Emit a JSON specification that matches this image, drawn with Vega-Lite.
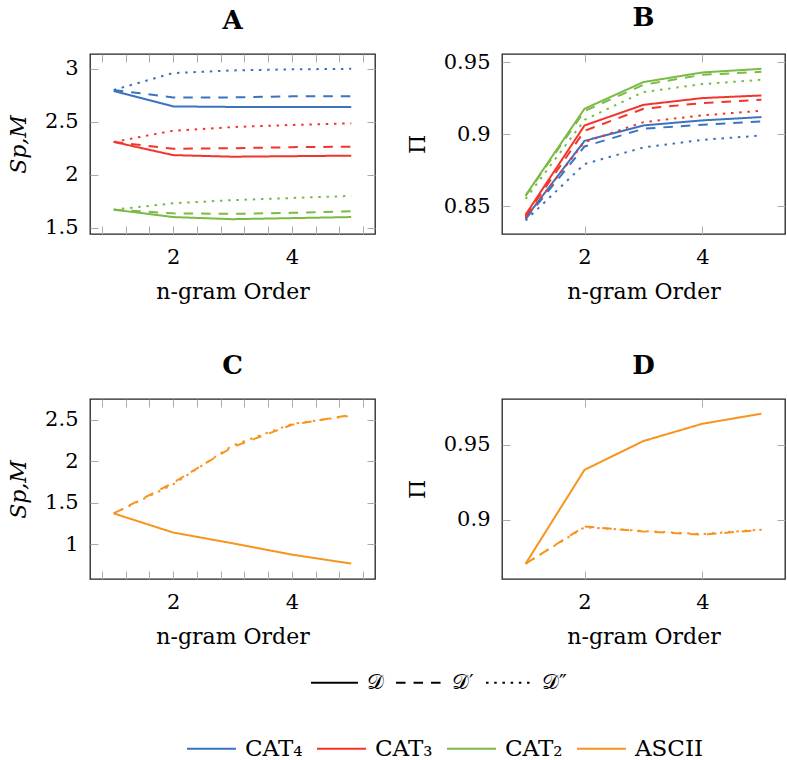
{
  "$schema": "https://vega.github.io/schema/vega-lite/v6.json",
  "padding": {"left": 6, "top": 4, "right": 0, "bottom": 0},
  "background": "white",
  "config": {
    "font": "DejaVu Serif",
    "view": {"stroke": "#222222", "strokeWidth": 1.3},
    "axis": {
      "grid": false, "domain": false,
      "tickColor": "#aaaaaa", "tickSize": -8, "tickWidth": 1,
      "labelFontSize": 21, "titleFontSize": 22, "labelColor": "black", "titleColor": "black",
      "titleFontWeight": "normal", "labelPadding": 20, "titlePadding": 14,
      "labelFont": "DejaVu Serif", "titleFont": "DejaVu Serif"
    },
    "title": {"fontSize": 26, "fontWeight": "bold", "offset": 20, "frame": "group", "color": "black", "font": "DejaVu Serif"},
    "legend": {"labelFont": "DejaVu Serif", "labelFontSize": 21, "labelColor": "black"}
  },
  "datasets": {
    "rows": [
      {"p":"A","c":"CAT₄","d":"𝒟","x":1,"y":2.79},{"p":"A","c":"CAT₄","d":"𝒟","x":2,"y":2.645},{"p":"A","c":"CAT₄","d":"𝒟","x":3,"y":2.64},{"p":"A","c":"CAT₄","d":"𝒟","x":4,"y":2.64},{"p":"A","c":"CAT₄","d":"𝒟","x":5,"y":2.64},
      {"p":"A","c":"CAT₄","d":"𝒟′","x":1,"y":2.8},{"p":"A","c":"CAT₄","d":"𝒟′","x":2,"y":2.73},{"p":"A","c":"CAT₄","d":"𝒟′","x":3,"y":2.73},{"p":"A","c":"CAT₄","d":"𝒟′","x":4,"y":2.74},{"p":"A","c":"CAT₄","d":"𝒟′","x":5,"y":2.74},
      {"p":"A","c":"CAT₄","d":"𝒟″","x":1,"y":2.8},{"p":"A","c":"CAT₄","d":"𝒟″","x":2,"y":2.96},{"p":"A","c":"CAT₄","d":"𝒟″","x":3,"y":2.985},{"p":"A","c":"CAT₄","d":"𝒟″","x":4,"y":2.995},{"p":"A","c":"CAT₄","d":"𝒟″","x":5,"y":3.0},
      {"p":"A","c":"CAT₃","d":"𝒟","x":1,"y":2.31},{"p":"A","c":"CAT₃","d":"𝒟","x":2,"y":2.185},{"p":"A","c":"CAT₃","d":"𝒟","x":3,"y":2.17},{"p":"A","c":"CAT₃","d":"𝒟","x":4,"y":2.175},{"p":"A","c":"CAT₃","d":"𝒟","x":5,"y":2.18},
      {"p":"A","c":"CAT₃","d":"𝒟′","x":1,"y":2.31},{"p":"A","c":"CAT₃","d":"𝒟′","x":2,"y":2.245},{"p":"A","c":"CAT₃","d":"𝒟′","x":3,"y":2.25},{"p":"A","c":"CAT₃","d":"𝒟′","x":4,"y":2.26},{"p":"A","c":"CAT₃","d":"𝒟′","x":5,"y":2.265},
      {"p":"A","c":"CAT₃","d":"𝒟″","x":1,"y":2.31},{"p":"A","c":"CAT₃","d":"𝒟″","x":2,"y":2.415},{"p":"A","c":"CAT₃","d":"𝒟″","x":3,"y":2.45},{"p":"A","c":"CAT₃","d":"𝒟″","x":4,"y":2.47},{"p":"A","c":"CAT₃","d":"𝒟″","x":5,"y":2.485},
      {"p":"A","c":"CAT₂","d":"𝒟","x":1,"y":1.67},{"p":"A","c":"CAT₂","d":"𝒟","x":2,"y":1.6},{"p":"A","c":"CAT₂","d":"𝒟","x":3,"y":1.58},{"p":"A","c":"CAT₂","d":"𝒟","x":4,"y":1.59},{"p":"A","c":"CAT₂","d":"𝒟","x":5,"y":1.6},
      {"p":"A","c":"CAT₂","d":"𝒟′","x":1,"y":1.67},{"p":"A","c":"CAT₂","d":"𝒟′","x":2,"y":1.635},{"p":"A","c":"CAT₂","d":"𝒟′","x":3,"y":1.63},{"p":"A","c":"CAT₂","d":"𝒟′","x":4,"y":1.64},{"p":"A","c":"CAT₂","d":"𝒟′","x":5,"y":1.655},
      {"p":"A","c":"CAT₂","d":"𝒟″","x":1,"y":1.67},{"p":"A","c":"CAT₂","d":"𝒟″","x":2,"y":1.73},{"p":"A","c":"CAT₂","d":"𝒟″","x":3,"y":1.76},{"p":"A","c":"CAT₂","d":"𝒟″","x":4,"y":1.78},{"p":"A","c":"CAT₂","d":"𝒟″","x":5,"y":1.8},

      {"p":"B","c":"CAT₄","d":"𝒟","x":1,"y":0.8417},{"p":"B","c":"CAT₄","d":"𝒟","x":2,"y":0.8953},{"p":"B","c":"CAT₄","d":"𝒟","x":3,"y":0.906},{"p":"B","c":"CAT₄","d":"𝒟","x":4,"y":0.9095},{"p":"B","c":"CAT₄","d":"𝒟","x":5,"y":0.9118},
      {"p":"B","c":"CAT₄","d":"𝒟′","x":1,"y":0.841},{"p":"B","c":"CAT₄","d":"𝒟′","x":2,"y":0.8914},{"p":"B","c":"CAT₄","d":"𝒟′","x":3,"y":0.9037},{"p":"B","c":"CAT₄","d":"𝒟′","x":4,"y":0.9065},{"p":"B","c":"CAT₄","d":"𝒟′","x":5,"y":0.9088},
      {"p":"B","c":"CAT₄","d":"𝒟″","x":1,"y":0.84},{"p":"B","c":"CAT₄","d":"𝒟″","x":2,"y":0.8792},{"p":"B","c":"CAT₄","d":"𝒟″","x":3,"y":0.8907},{"p":"B","c":"CAT₄","d":"𝒟″","x":4,"y":0.896},{"p":"B","c":"CAT₄","d":"𝒟″","x":5,"y":0.899},
      {"p":"B","c":"CAT₃","d":"𝒟","x":1,"y":0.844},{"p":"B","c":"CAT₃","d":"𝒟","x":2,"y":0.906},{"p":"B","c":"CAT₃","d":"𝒟","x":3,"y":0.9203},{"p":"B","c":"CAT₃","d":"𝒟","x":4,"y":0.925},{"p":"B","c":"CAT₃","d":"𝒟","x":5,"y":0.9268},
      {"p":"B","c":"CAT₃","d":"𝒟′","x":1,"y":0.843},{"p":"B","c":"CAT₃","d":"𝒟′","x":2,"y":0.9023},{"p":"B","c":"CAT₃","d":"𝒟′","x":3,"y":0.9176},{"p":"B","c":"CAT₃","d":"𝒟′","x":4,"y":0.9215},{"p":"B","c":"CAT₃","d":"𝒟′","x":5,"y":0.9238},
      {"p":"B","c":"CAT₃","d":"𝒟″","x":1,"y":0.842},{"p":"B","c":"CAT₃","d":"𝒟″","x":2,"y":0.8944},{"p":"B","c":"CAT₃","d":"𝒟″","x":3,"y":0.9083},{"p":"B","c":"CAT₃","d":"𝒟″","x":4,"y":0.913},{"p":"B","c":"CAT₃","d":"𝒟″","x":5,"y":0.9162},
      {"p":"B","c":"CAT₂","d":"𝒟","x":1,"y":0.8574},{"p":"B","c":"CAT₂","d":"𝒟","x":2,"y":0.9176},{"p":"B","c":"CAT₂","d":"𝒟","x":3,"y":0.9361},{"p":"B","c":"CAT₂","d":"𝒟","x":4,"y":0.9428},{"p":"B","c":"CAT₂","d":"𝒟","x":5,"y":0.9453},
      {"p":"B","c":"CAT₂","d":"𝒟′","x":1,"y":0.857},{"p":"B","c":"CAT₂","d":"𝒟′","x":2,"y":0.916},{"p":"B","c":"CAT₂","d":"𝒟′","x":3,"y":0.9342},{"p":"B","c":"CAT₂","d":"𝒟′","x":4,"y":0.9412},{"p":"B","c":"CAT₂","d":"𝒟′","x":5,"y":0.9432},
      {"p":"B","c":"CAT₂","d":"𝒟″","x":1,"y":0.855},{"p":"B","c":"CAT₂","d":"𝒟″","x":2,"y":0.9099},{"p":"B","c":"CAT₂","d":"𝒟″","x":3,"y":0.9292},{"p":"B","c":"CAT₂","d":"𝒟″","x":4,"y":0.9347},{"p":"B","c":"CAT₂","d":"𝒟″","x":5,"y":0.9377},

      {"p":"C","c":"ASCII","d":"𝒟","x":1,"y":1.37},{"p":"C","c":"ASCII","d":"𝒟","x":2,"y":1.14},{"p":"C","c":"ASCII","d":"𝒟","x":3,"y":1.01},{"p":"C","c":"ASCII","d":"𝒟","x":4,"y":0.873},{"p":"C","c":"ASCII","d":"𝒟","x":5,"y":0.765},
      {"p":"C","c":"ASCII","d":"𝒟′","x":1,"y":1.37},{"p":"C","c":"ASCII","d":"𝒟′","x":2,"y":1.74},{"p":"C","c":"ASCII","d":"𝒟′","x":3,"y":2.17},{"p":"C","c":"ASCII","d":"𝒟′","x":4,"y":2.44},{"p":"C","c":"ASCII","d":"𝒟′","x":5,"y":2.56},
      {"p":"C","c":"ASCII","d":"𝒟″","x":1,"y":1.37},{"p":"C","c":"ASCII","d":"𝒟″","x":2,"y":1.72},{"p":"C","c":"ASCII","d":"𝒟″","x":3,"y":2.19},{"p":"C","c":"ASCII","d":"𝒟″","x":4,"y":2.45},{"p":"C","c":"ASCII","d":"𝒟″","x":5,"y":2.55},

      {"p":"D","c":"ASCII","d":"𝒟","x":1,"y":0.8707},{"p":"D","c":"ASCII","d":"𝒟","x":2,"y":0.9333},{"p":"D","c":"ASCII","d":"𝒟","x":3,"y":0.9525},{"p":"D","c":"ASCII","d":"𝒟","x":4,"y":0.964},{"p":"D","c":"ASCII","d":"𝒟","x":5,"y":0.9707},
      {"p":"D","c":"ASCII","d":"𝒟′","x":1,"y":0.8707},{"p":"D","c":"ASCII","d":"𝒟′","x":2,"y":0.8955},{"p":"D","c":"ASCII","d":"𝒟′","x":3,"y":0.8922},{"p":"D","c":"ASCII","d":"𝒟′","x":4,"y":0.89},{"p":"D","c":"ASCII","d":"𝒟′","x":5,"y":0.8933},
      {"p":"D","c":"ASCII","d":"𝒟″","x":1,"y":0.8707},{"p":"D","c":"ASCII","d":"𝒟″","x":2,"y":0.895},{"p":"D","c":"ASCII","d":"𝒟″","x":3,"y":0.8925},{"p":"D","c":"ASCII","d":"𝒟″","x":4,"y":0.8905},{"p":"D","c":"ASCII","d":"𝒟″","x":5,"y":0.8935}
    ]
  },
  "data": {"name": "rows"},
  "vconcat": [
    {
      "hconcat": [
        {
          "title": "A", "width": 285, "height": 180,
          "transform": [{"filter": "datum.p == 'A'"}],
          "layer": [
            {
              "mark": {"type": "line", "strokeWidth": 2},
              "encoding": {
                "x": {"field": "x", "type": "quantitative", "scale": {"domain": [0.6, 5.4], "nice": false, "zero": false},
                      "axis": {"values": [0.8,1.2,1.6,2,2.4,2.8,3.2,3.6,4,4.4,4.8,5.2], "labelExpr": "datum.value == 2 ? '2' : datum.value == 4 ? '4' : ''", "title": "n-gram Order"}},
                "y": {"field": "y", "type": "quantitative", "scale": {"domain": [1.44, 3.14], "nice": false, "zero": false},
                      "axis": {"values": [1.5, 2, 2.5, 3], "format": "~g", "title": "Sp,M", "titleFontStyle": "italic"}},
                "color": {"field": "c", "type": "nominal",
                          "scale": {"domain": ["CAT₄", "CAT₃", "CAT₂", "ASCII"], "range": ["#3b73bf", "#f2352b", "#79bb45", "#f7941e"]},
                          "legend": {"orient": "none", "legendX": 96, "legendY": 669, "direction": "horizontal", "title": null,
                                     "symbolType": "stroke", "symbolSize": 2400, "symbolStrokeWidth": 2, "labelOffset": 8, "columnPadding": 10, "labelFontSize": 23}},
                "strokeDash": {"field": "d", "type": "nominal",
                          "scale": {"domain": ["𝒟", "𝒟′", "𝒟″"], "range": [[1, 0], [9.5, 8], [2.5, 5.7]]},
                          "legend": {"orient": "none", "legendX": 220, "legendY": 604, "direction": "horizontal", "title": null,
                                     "symbolType": "stroke", "symbolSize": 2200, "symbolStrokeWidth": 2, "symbolStrokeColor": "black", "labelOffset": 8, "columnPadding": 8}}
              }
            },
            {
              "mark": {"type": "point", "opacity": 0},
              "encoding": {
                "x": {"field": "x", "type": "quantitative", "scale": {"domain": [0.6, 5.4], "nice": false, "zero": false},
                      "axis": {"orient": "top", "values": [0.8,1.2,1.6,2,2.4,2.8,3.2,3.6,4,4.4,4.8,5.2], "labels": false, "title": null}},
                "y": {"field": "y", "type": "quantitative", "scale": {"domain": [1.44, 3.14], "nice": false, "zero": false},
                      "axis": {"orient": "right", "values": [1.5, 2, 2.5, 3], "labels": false, "title": null}}
              }
            }
          ],
          "resolve": {"axis": {"x": "independent", "y": "independent"}}
        },
        {
          "title": "B", "width": 283, "height": 180,
          "transform": [{"filter": "datum.p == 'B'"}],
          "layer": [
            {
              "mark": {"type": "line", "strokeWidth": 2},
              "encoding": {
                "x": {"field": "x", "type": "quantitative", "scale": {"domain": [0.6, 5.4], "nice": false, "zero": false},
                      "axis": {"values": [2, 4], "title": "n-gram Order"}},
                "y": {"field": "y", "type": "quantitative", "scale": {"domain": [0.8306, 0.9556], "nice": false, "zero": false},
                      "axis": {"values": [0.85, 0.9, 0.95], "format": "~g", "title": "Π"}},
                "color": {"field": "c", "type": "nominal"},
                "strokeDash": {"field": "d", "type": "nominal"}
              }
            },
            {
              "mark": {"type": "point", "opacity": 0},
              "encoding": {
                "x": {"field": "x", "type": "quantitative", "scale": {"domain": [0.6, 5.4], "nice": false, "zero": false},
                      "axis": {"orient": "top", "values": [2, 4], "labels": false, "title": null}},
                "y": {"field": "y", "type": "quantitative", "scale": {"domain": [0.8306, 0.9556], "nice": false, "zero": false},
                      "axis": {"orient": "right", "values": [0.85, 0.9, 0.95], "labels": false, "title": null}}
              }
            }
          ],
          "resolve": {"axis": {"x": "independent", "y": "independent"}}
        }
      ],
      "spacing": 28
    },
    {
      "hconcat": [
        {
          "title": "C", "width": 285, "height": 180,
          "transform": [{"filter": "datum.p == 'C'"}],
          "layer": [
            {
              "mark": {"type": "line", "strokeWidth": 2},
              "encoding": {
                "x": {"field": "x", "type": "quantitative", "scale": {"domain": [0.6, 5.4], "nice": false, "zero": false},
                      "axis": {"values": [0.8,1.2,1.6,2,2.4,2.8,3.2,3.6,4,4.4,4.8,5.2], "labelExpr": "datum.value == 2 ? '2' : datum.value == 4 ? '4' : ''", "title": "n-gram Order"}},
                "y": {"field": "y", "type": "quantitative", "scale": {"domain": [0.579, 2.751], "nice": false, "zero": false},
                      "axis": {"values": [1, 1.5, 2, 2.5], "format": "~g", "title": "Sp,M", "titleFontStyle": "italic"}},
                "color": {"field": "c", "type": "nominal"},
                "strokeDash": {"field": "d", "type": "nominal"}
              }
            },
            {
              "mark": {"type": "point", "opacity": 0},
              "encoding": {
                "x": {"field": "x", "type": "quantitative", "scale": {"domain": [0.6, 5.4], "nice": false, "zero": false},
                      "axis": {"orient": "top", "values": [0.8,1.2,1.6,2,2.4,2.8,3.2,3.6,4,4.4,4.8,5.2], "labels": false, "title": null}},
                "y": {"field": "y", "type": "quantitative", "scale": {"domain": [0.579, 2.751], "nice": false, "zero": false},
                      "axis": {"orient": "right", "values": [1, 1.5, 2, 2.5], "labels": false, "title": null}}
              }
            }
          ],
          "resolve": {"axis": {"x": "independent", "y": "independent"}}
        },
        {
          "title": "D", "width": 283, "height": 180,
          "transform": [{"filter": "datum.p == 'D'"}],
          "layer": [
            {
              "mark": {"type": "line", "strokeWidth": 2},
              "encoding": {
                "x": {"field": "x", "type": "quantitative", "scale": {"domain": [0.6, 5.4], "nice": false, "zero": false},
                      "axis": {"values": [2, 4], "title": "n-gram Order"}},
                "y": {"field": "y", "type": "quantitative", "scale": {"domain": [0.8605, 0.9805], "nice": false, "zero": false},
                      "axis": {"values": [0.9, 0.95], "format": "~g", "title": "Π"}},
                "color": {"field": "c", "type": "nominal"},
                "strokeDash": {"field": "d", "type": "nominal"}
              }
            },
            {
              "mark": {"type": "point", "opacity": 0},
              "encoding": {
                "x": {"field": "x", "type": "quantitative", "scale": {"domain": [0.6, 5.4], "nice": false, "zero": false},
                      "axis": {"orient": "top", "values": [2, 4], "labels": false, "title": null}},
                "y": {"field": "y", "type": "quantitative", "scale": {"domain": [0.8605, 0.9805], "nice": false, "zero": false},
                      "axis": {"orient": "right", "values": [0.9, 0.95], "labels": false, "title": null}}
              }
            }
          ],
          "resolve": {"axis": {"x": "independent", "y": "independent"}}
        }
      ],
      "spacing": 28
    }
  ],
  "spacing": 48,
  "resolve": {"scale": {"color": "shared", "strokeDash": "shared"}, "legend": {"color": "shared", "strokeDash": "shared"}}
}
